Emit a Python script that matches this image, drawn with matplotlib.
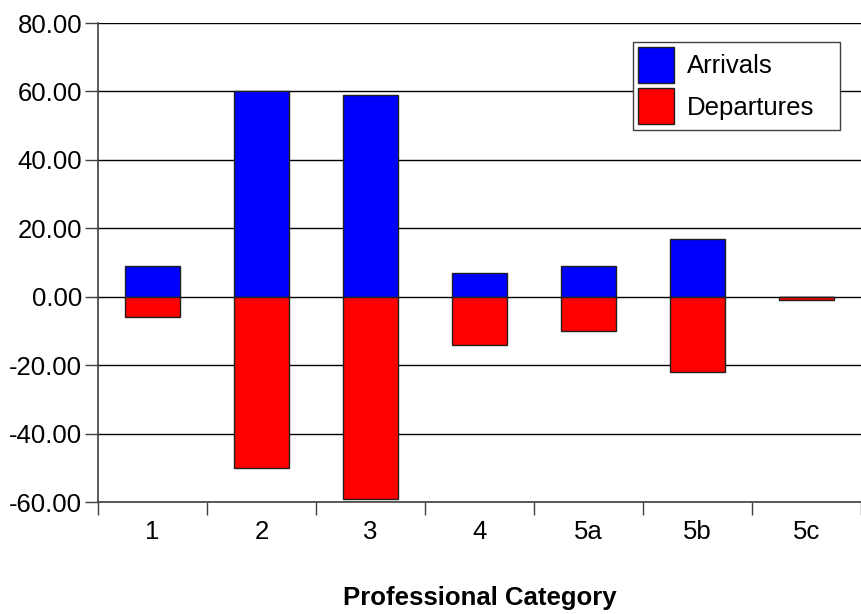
import matplotlib
matplotlib.use("Agg")
import matplotlib.pyplot as plt
import numpy as np

plt.rcParams['font.family'] = ['Liberation Sans', 'DejaVu Sans']

categories = ['1', '2', '3', '4', '5a', '5b', '5c']
arrivals = [9, 60, 59, 7, 9, 17, 0]
departures = [-6, -50, -59, -14, -10, -22, -1]

FS = 18.5

fig = plt.figure(figsize=(8.61, 6.14), dpi=100)
ax = fig.add_axes([0.1138, 0.1824, 0.8862, 0.7801])

x = np.arange(len(categories))
ax.bar(x, arrivals, width=0.51, color='#0000ff', edgecolor='#202020', linewidth=1,
       label='Arrivals', zorder=3)
ax.bar(x, departures, width=0.51, color='#ff0000', edgecolor='#202020', linewidth=1,
       label='Departures', zorder=3)

ax.set_xlim(-0.5, len(categories) - 0.5)
ax.set_ylim(-60, 80)
ax.set_yticks(np.arange(-60, 81, 20))
ax.yaxis.set_major_formatter(matplotlib.ticker.FormatStrFormatter('%.2f'))
ax.grid(axis='y', color='black', linewidth=1, zorder=0)

# category labels centred, ticks at the boundaries
ax.set_xticks(np.arange(len(categories) + 1) - 0.5)
ax.set_xticklabels([])
ax.set_xticks(x, minor=True)
ax.set_xticklabels(categories, minor=True)
ax.tick_params(axis='x', which='minor', length=0, pad=13, labelsize=FS)
ax.tick_params(axis='x', which='major', length=9.5, width=1, color='#404040')
ax.tick_params(axis='y', length=9.5, width=1, color='#404040', labelsize=FS, pad=2)

for s in ['top', 'right']:
    ax.spines[s].set_visible(False)
for s in ['left', 'bottom']:
    ax.spines[s].set_color('#404040')
    ax.spines[s].set_linewidth(1.2)

ax.set_xlabel('Professional Category', fontsize=FS, fontweight='bold', labelpad=30)

# fixed-width legend box, entries left aligned
leg = ax.legend(loc='upper left', bbox_to_anchor=(0.7012, 0.5, 0.2713, 0.4603),
                mode='expand', borderaxespad=0,
                fontsize=FS, frameon=True, fancybox=False, framealpha=1,
                edgecolor='#404040', handlelength=1.4, handleheight=1.78,
                handletextpad=0.5, labelspacing=0.2, borderpad=0.2)
leg.get_frame().set_linewidth(1)

fig.savefig('out.png', dpi=100)
